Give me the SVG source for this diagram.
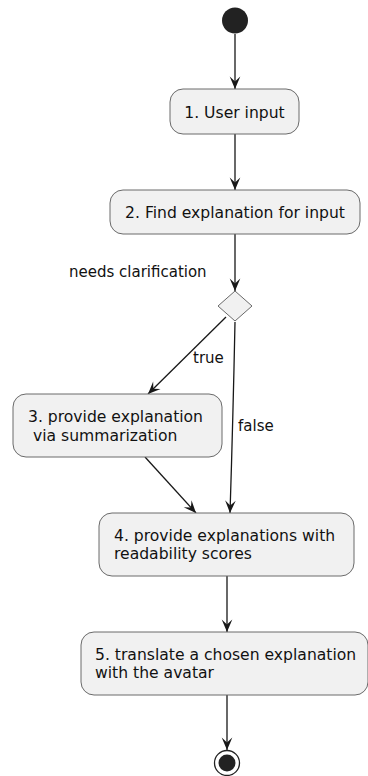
<svg xmlns="http://www.w3.org/2000/svg" width="368" height="776" viewBox="0 0 368 776">
  <defs>
    <marker id="arrow" viewBox="0 0 14 12" refX="13" refY="6" markerWidth="14" markerHeight="12" orient="auto" markerUnits="userSpaceOnUse">
      <path d="M0.5,0.7 L13,6 L0.5,11.3 L5.5,6 Z" fill="#181818"/>
    </marker>
    <style>
      .box { fill: #F1F1F1; stroke: #6a6a6a; stroke-width: 1; }
      .edge { fill: none; stroke: #181818; stroke-width: 1.3; }
      .t { font-family: "DejaVu Sans", sans-serif; font-size: 15.6px; fill: #111; }
      .lbl { font-family: "DejaVu Sans", sans-serif; font-size: 15px; fill: #111; }
    </style>
  </defs>
  <rect width="368" height="776" fill="#FFFFFF"/>

  <g id="connectors">
    <path class="edge" d="M235,34 L235,89" marker-end="url(#arrow)"/>
    <path class="edge" d="M235,134 L235,190" marker-end="url(#arrow)"/>
    <path class="edge" d="M235,234 L235,291" marker-end="url(#arrow)"/>
    <path class="edge" d="M226,317 L148,394" marker-end="url(#arrow)"/>
    <path class="edge" d="M235,322 Q233,420 230,513" marker-end="url(#arrow)"/>
    <path class="edge" d="M145,457 L196,513" marker-end="url(#arrow)"/>
    <path class="edge" d="M227,576 L227,632" marker-end="url(#arrow)"/>
    <path class="edge" d="M227,695 L227,750" marker-end="url(#arrow)"/>
    <text class="lbl" x="193" y="363">true</text>
    <text class="lbl" x="238" y="431">false</text>
  </g>

  <g id="start">
    <circle cx="235" cy="20.5" r="13" fill="#222222"/>
  </g>

  <g id="n1">
    <rect class="box" x="170" y="89" width="129" height="45" rx="13" ry="13"/>
    <text class="t" x="234.5" y="117.5" text-anchor="middle">1. User input</text>
  </g>

  <g id="n2">
    <rect class="box" x="110" y="190" width="250" height="44" rx="13" ry="13"/>
    <text class="t" x="235" y="218" text-anchor="middle">2. Find explanation for input</text>
  </g>

  <g id="decision">
    <text class="lbl" x="69" y="277">needs clarification</text>
    <polygon class="box" points="235,291 252,306 235,321 218,306"/>
  </g>

  <g id="n3">
    <rect class="box" x="13" y="394" width="209" height="63" rx="13" ry="13"/>
    <text class="t" x="28" y="422">3. provide explanation</text>
    <text class="t" x="28" y="441" xml:space="preserve"> via summarization</text>
  </g>

  <g id="n4">
    <rect class="box" x="99" y="513" width="255" height="63" rx="13" ry="13"/>
    <text class="t" x="114" y="541">4. provide explanations with</text>
    <text class="t" x="114" y="559">readability scores</text>
  </g>

  <g id="n5">
    <rect class="box" x="81" y="632" width="287" height="63" rx="13" ry="13"/>
    <text class="t" x="95" y="660">5. translate a chosen explanation</text>
    <text class="t" x="95" y="678">with the avatar</text>
  </g>

  <g id="end">
    <circle cx="227" cy="763" r="12.5" fill="#FFFFFF" stroke="#222222" stroke-width="1.3"/>
    <circle cx="227" cy="763" r="8.5" fill="#222222"/>
  </g>
</svg>
